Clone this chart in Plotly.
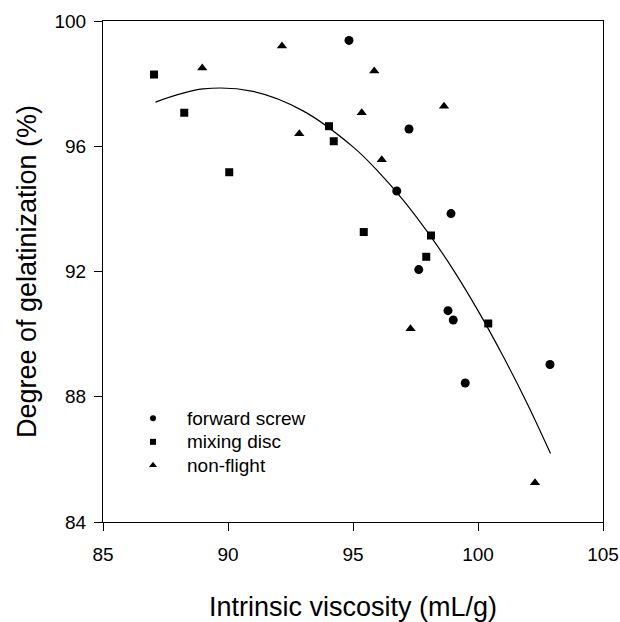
import plotly.graph_objects as go

# forward screw (circles)
fs_x = [94.84, 97.24, 96.75, 98.92, 97.63, 98.80, 99.01, 102.88, 99.49]
fs_y = [99.38, 96.55, 94.57, 93.85, 92.06, 90.75, 90.45, 89.03, 88.44]
# mixing disc (squares)
md_x = [87.04, 88.25, 90.05, 94.04, 94.23, 95.43, 98.12, 97.93, 100.41]
md_y = [98.29, 97.07, 95.17, 96.64, 96.16, 93.26, 93.15, 92.47, 90.34]
# non-flight (triangles)
nf_x = [88.97, 92.16, 92.85, 95.85, 95.35, 98.64, 96.15, 97.30, 102.28]
nf_y = [98.50, 99.20, 96.40, 98.40, 97.07, 97.28, 95.57, 90.17, 85.25]
# fitted curve
fit_x = [87.1, 89, 91, 93, 95, 96, 97, 98, 99, 100, 101, 102, 102.9]
fit_y = [97.41, 97.83, 97.75, 97.13, 95.98, 95.20, 94.29, 93.24, 92.07, 90.75, 89.30, 87.73, 86.19]

x_ticks = [85, 90, 95, 100, 105]
y_ticks = [84, 88, 92, 96, 100]

series_names = ["forward screw", "mixing disc", "non-flight"]

FONT = "Liberation Sans, Arial, sans-serif"
fig = go.Figure()
fig.add_trace(go.Scatter(x=fit_x, y=fit_y, mode="lines",
                         line=dict(color="black", width=1.2, shape="spline"),
                         showlegend=False, hoverinfo="skip"))
styles = [("circle", 9, 6), ("square", 8, 6), ("triangle-up", 9, 7)]
data = [(fs_x, fs_y), (md_x, md_y), (nf_x, nf_y)]
for name, (xs, ys), (sym, size, lsize) in zip(series_names, data, styles):
    fig.add_trace(go.Scatter(x=xs, y=ys, mode="markers", name=name, showlegend=False,
                             marker=dict(symbol=sym, size=size, color="black")))

# custom legend on an overlay axis measured in pixels from the plot's top-left corner
leg_x, leg_y0, leg_dy, leg_text_dx = 50, 397, 23.5, 32
for i, (name, (sym, size, lsize)) in enumerate(zip(series_names, styles)):
    yy = leg_y0 + i * leg_dy
    fig.add_trace(go.Scatter(x=[leg_x], y=[yy], xaxis="x2", yaxis="y2", mode="markers",
                             showlegend=False, hoverinfo="skip",
                             marker=dict(symbol=sym, size=lsize, color="black")))
    fig.add_annotation(x=leg_x + leg_text_dx, y=yy, xref="x2", yref="y2", text=name,
                       showarrow=False, xanchor="left", yanchor="middle",
                       font=dict(size=19, family=FONT, color="black"))

fig.update_layout(
    width=620, height=622,
    margin=dict(l=103, r=17, t=21, b=100, autoexpand=False),
    paper_bgcolor="white", plot_bgcolor="white",
    font=dict(family=FONT, color="black", size=19),
    showlegend=False,
    xaxis=dict(range=[85, 105], tickvals=x_ticks, showgrid=False, zeroline=False,
               showline=True, linecolor="black", linewidth=1, mirror=True, automargin=False,
               ticks="outside", ticklen=8, tickcolor="black", ticklabelstandoff=7,
               title=dict(text="Intrinsic viscosity (mL/g)", font=dict(size=27), standoff=34)),
    yaxis=dict(range=[84, 100], tickvals=y_ticks, showgrid=False, zeroline=False,
               showline=True, linecolor="black", linewidth=1, mirror=True, automargin=False,
               ticks="outside", ticklen=8, tickcolor="black", ticklabelstandoff=4,
               title=dict(text="Degree of gelatinization (%)", font=dict(size=27), standoff=10)),
    xaxis2=dict(overlaying="x", range=[0, 500], visible=False, fixedrange=True),
    yaxis2=dict(overlaying="y", range=[500.6, 0], visible=False, fixedrange=True),
)
fig.write_html("out.html")
